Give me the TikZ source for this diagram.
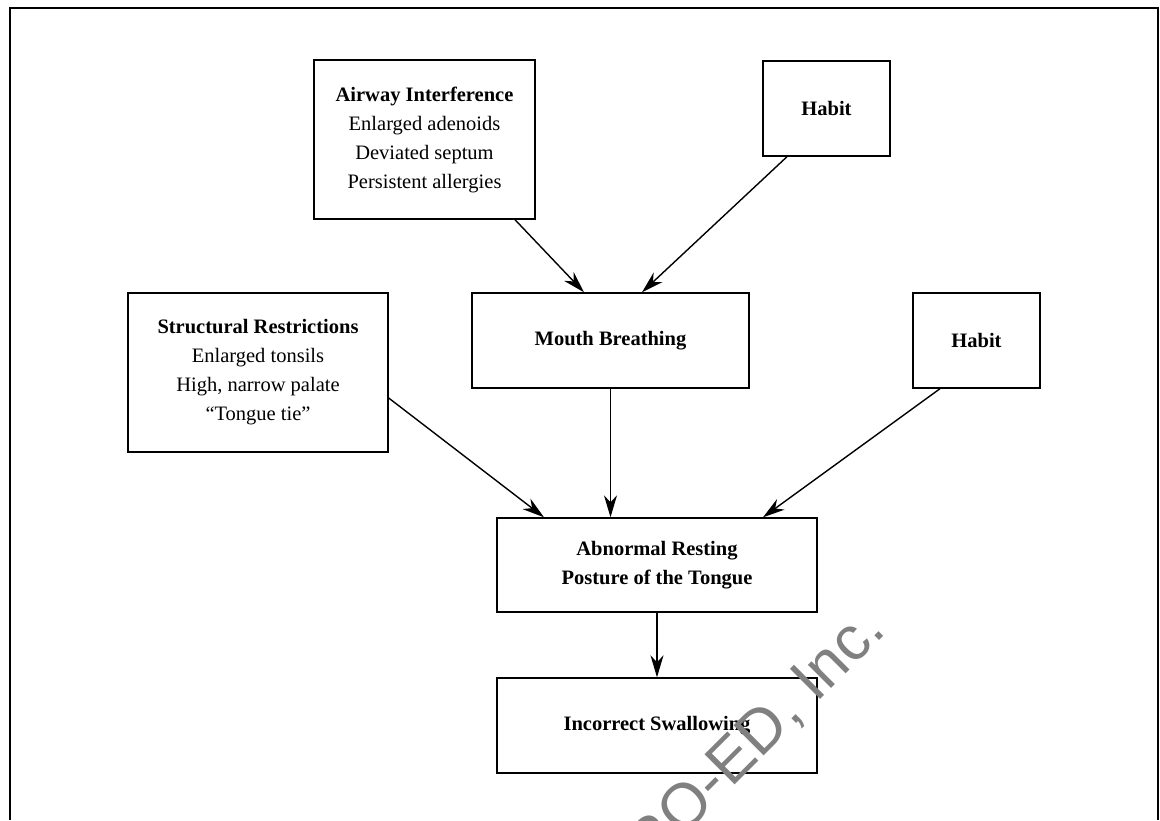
\documentclass[tikz,border=0pt]{standalone}
\usepackage{fontspec}
\setmainfont{Liberation Serif}
\newfontfamily\marksans{Liberation Sans}
\usetikzlibrary{arrows.meta}

\tikzset{
  causebox/.style={draw, line width=1.4pt, inner sep=0pt, align=center,
    font=\fontsize{20.5}{29}\selectfont},
  flowarrow/.style={-{Stealth[length=22pt,width=13pt,inset=7pt]}, line width=1.4pt},
}

\begin{document}
\begin{tikzpicture}[x=1pt,y=-1pt]
  \useasboundingbox (0,0) rectangle (1160,820);
  % open frame
  \draw[line width=2.2pt] (10,820) -- (10,8) -- (1158,8) -- (1158,820);

  \node[causebox, minimum width=221pt, minimum height=159pt] (airway) at (424.5,139.5)
    {\textbf{Airway Interference}\\Enlarged adenoids\\Deviated septum\\Persistent allergies};
  \node[causebox, minimum width=127pt, minimum height=95pt] (habitA) at (826.5,108.5) {\textbf{Habit}};
  \node[causebox, minimum width=277pt, minimum height=95pt] (mouth) at (610.5,340.5) {\textbf{Mouth Breathing}};
  \node[causebox, minimum width=260pt, minimum height=159pt] (struct) at (258,372.5)
    {\textbf{Structural Restrictions}\\Enlarged tonsils\\High, narrow palate\\``Tongue tie''};
  \node[causebox, minimum width=127pt, minimum height=95pt] (habitB) at (976.5,340.5) {\textbf{Habit}};
  \node[causebox, minimum width=320pt, minimum height=94pt] (posture) at (657,565)
    {\textbf{Abnormal Resting}\\\textbf{Posture of the Tongue}};
  \node[causebox, minimum width=320pt, minimum height=95pt] (swallow) at (657,725.5) {\textbf{Incorrect Swallowing}};

  \draw[flowarrow] ([xshift=90.5pt]airway.south) -- ([xshift=-26.5pt]mouth.north);
  \draw[flowarrow] ([xshift=-39.5pt]habitA.south) -- ([xshift=31.5pt]mouth.north);
  \draw[flowarrow] ([yshift=-25.5pt]struct.east) -- ([xshift=-113pt]posture.north);
  \draw[flowarrow] (mouth.south) -- (mouth.south |- posture.north);
  \draw[flowarrow] ([xshift=-36.5pt]habitB.south) -- ([xshift=106pt]posture.north);
  \draw[flowarrow] (posture.south) -- (swallow.north);

  \node[rotate=45, text=black!50, font=\marksans\fontsize{62}{62}\selectfont] (mark) at (742,753) {PRO-ED, Inc.};
\end{tikzpicture}
\end{document}
